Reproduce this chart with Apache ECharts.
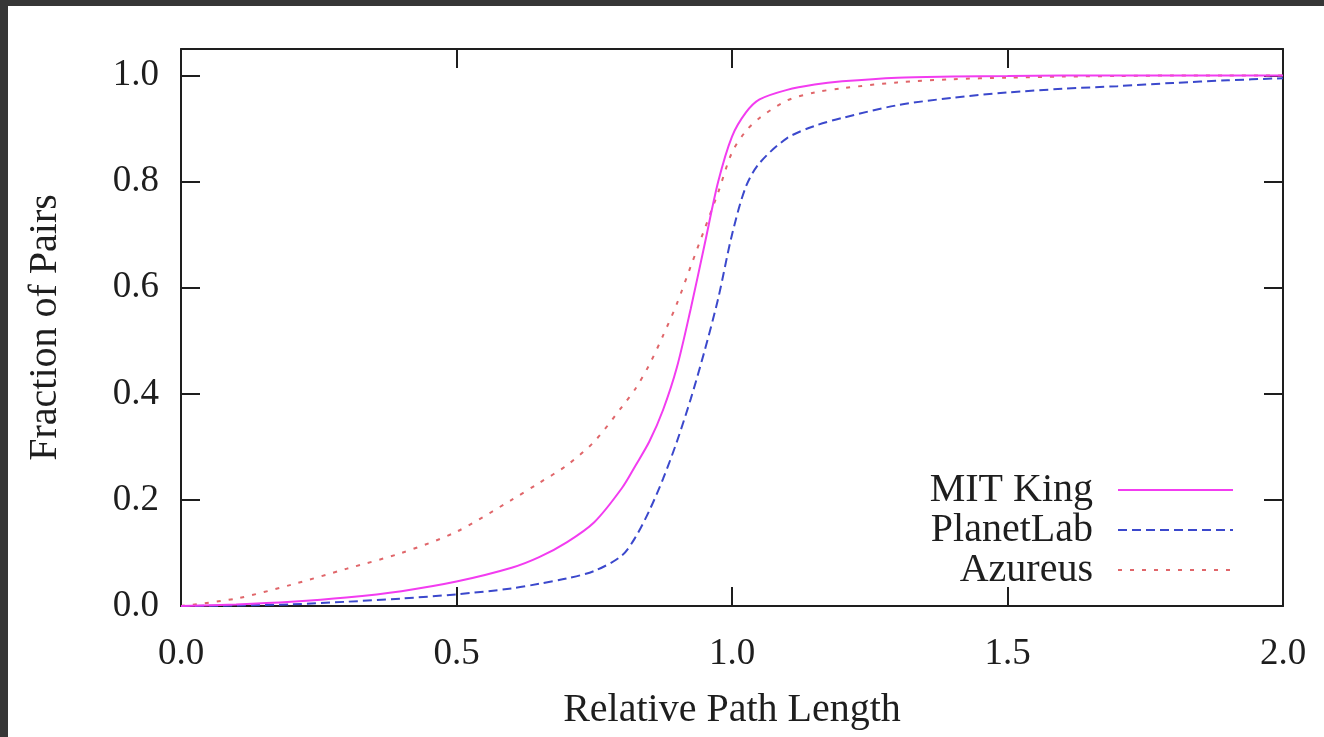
<!DOCTYPE html>
<html>
<head>
<meta charset="utf-8">
<script src="https://cdn.jsdelivr.net/npm/echarts@6/dist/echarts.min.js"></script>
<style>
  html, body { margin: 0; padding: 0; background: #363636; width: 1324px; height: 737px; overflow: hidden; }
  #chart { position: absolute; left: 8px; top: 6px; width: 1316px; height: 731px; background: #ffffff; }
</style>
</head>
<body>
<div id="chart"></div>
<script>
// Relative path length (x values shared by all series)
const xValues = [0, 0.1, 0.2, 0.3, 0.4, 0.5, 0.6, 0.65, 0.7, 0.75, 0.8, 0.825, 0.85, 0.875, 0.9, 0.925, 0.95, 0.975, 1.0, 1.025, 1.05, 1.1, 1.15, 1.2, 1.3, 1.4, 1.5, 1.6, 1.7, 1.8, 1.9, 2.0];
// Fraction of pairs (CDF)
const mitKing   = [0, 0.003, 0.008, 0.016, 0.028, 0.046, 0.072, 0.092, 0.12, 0.158, 0.222, 0.265, 0.31, 0.37, 0.45, 0.56, 0.68, 0.80, 0.885, 0.93, 0.955, 0.973, 0.983, 0.989, 0.996, 0.998, 0.999, 1, 1, 1, 1, 1];
const planetLab = [0, 0.001, 0.003, 0.008, 0.014, 0.022, 0.033, 0.042, 0.052, 0.066, 0.095, 0.13, 0.18, 0.24, 0.31, 0.39, 0.48, 0.58, 0.70, 0.79, 0.835, 0.882, 0.905, 0.92, 0.944, 0.958, 0.968, 0.975, 0.98, 0.986, 0.991, 0.995];
const azureus   = [0, 0.014, 0.04, 0.07, 0.1, 0.14, 0.2, 0.232, 0.265, 0.31, 0.375, 0.41, 0.455, 0.51, 0.57, 0.64, 0.71, 0.78, 0.855, 0.895, 0.92, 0.953, 0.968, 0.976, 0.987, 0.993, 0.996, 0.998, 0.999, 1, 1, 1];
const seriesNames = ['MIT King', 'PlanetLab', 'Azureus'];
const xTickValues = [0, 0.5, 1.0, 1.5, 2.0];
const yTickValues = [0, 0.2, 0.4, 0.6, 0.8, 1.0];

const pairs = (ys) => xValues.map((x, i) => [x, ys[i]]);
const font = 'Liberation Serif, Times New Roman, serif';
const ink = '#1e1e1e';

const isYTick = (v) => yTickValues.some(t => Math.abs(t - v) < 1e-6);

const baseAxisLine = { show: true, onZero: false, lineStyle: { color: ink, width: 2 } };
const baseTick = { show: true, inside: true, length: 19, lineStyle: { color: ink, width: 2 } };

const chart = echarts.init(document.getElementById('chart'), null, { renderer: 'canvas' });
chart.setOption({
  animation: false,
  backgroundColor: '#ffffff',
  grid: { left: 173, right: 41, top: 43, bottom: 131, containLabel: false },
  legend: {
    orient: 'vertical',
    right: 85,
    top: 459,
    align: 'right',
    itemWidth: 115,
    itemHeight: 14,
    itemGap: 0,
    data: seriesNames,
    itemStyle: { opacity: 0 },
    textStyle: { fontFamily: font, fontSize: 40, color: ink, padding: [0, 20, 0, 0] }
  },
  xAxis: [
    {
      type: 'value', position: 'bottom', min: 0, max: 2, interval: 0.5,
      name: 'Relative Path Length', nameLocation: 'middle', nameGap: 84,
      nameTextStyle: { fontFamily: font, fontSize: 40, color: ink },
      axisLine: baseAxisLine, axisTick: baseTick,
      axisLabel: { fontFamily: font, fontSize: 37, color: ink, margin: 30, formatter: v => v.toFixed(1) },
      splitLine: { show: false }
    },
    {
      type: 'value', position: 'top', min: 0, max: 2, interval: 0.5,
      axisLine: baseAxisLine, axisTick: baseTick,
      axisLabel: { show: false }, splitLine: { show: false }
    }
  ],
  yAxis: [
    {
      type: 'value', position: 'left', min: 0, max: 1.05, interval: 0.2,
      name: 'Fraction of Pairs', nameLocation: 'middle', nameGap: 116,
      nameTextStyle: { fontFamily: font, fontSize: 40, color: ink },
      axisLine: baseAxisLine, axisTick: baseTick,
      axisLabel: { fontFamily: font, fontSize: 37, color: ink, margin: 22, showMaxLabel: false,
        formatter: v => isYTick(v) ? v.toFixed(1) : '' },
      splitLine: { show: false }
    },
    {
      type: 'value', position: 'right', min: 0, max: 1.05, interval: 0.2,
      axisLine: baseAxisLine, axisTick: baseTick,
      axisLabel: { show: false }, splitLine: { show: false }
    }
  ],
  series: [
    {
      name: seriesNames[0], type: 'line', data: pairs(mitKing),
      smooth: 0.3, showSymbol: false, symbol: 'none',
      lineStyle: { color: '#f23cf0', width: 2, type: 'solid' },
      itemStyle: { color: '#f23cf0' }, z: 4
    },
    {
      name: seriesNames[1], type: 'line', data: pairs(planetLab),
      smooth: 0.3, showSymbol: false, symbol: 'none',
      lineStyle: { color: '#3b48cc', width: 2, type: [9, 5] },
      itemStyle: { color: '#3b48cc' }, z: 3
    },
    {
      name: seriesNames[2], type: 'line', data: pairs(azureus),
      smooth: 0.3, showSymbol: false, symbol: 'none',
      lineStyle: { color: '#e0666a', width: 2, type: [4, 8] },
      itemStyle: { color: '#e0666a' }, z: 2
    }
  ]
});
</script>
</body>
</html>
